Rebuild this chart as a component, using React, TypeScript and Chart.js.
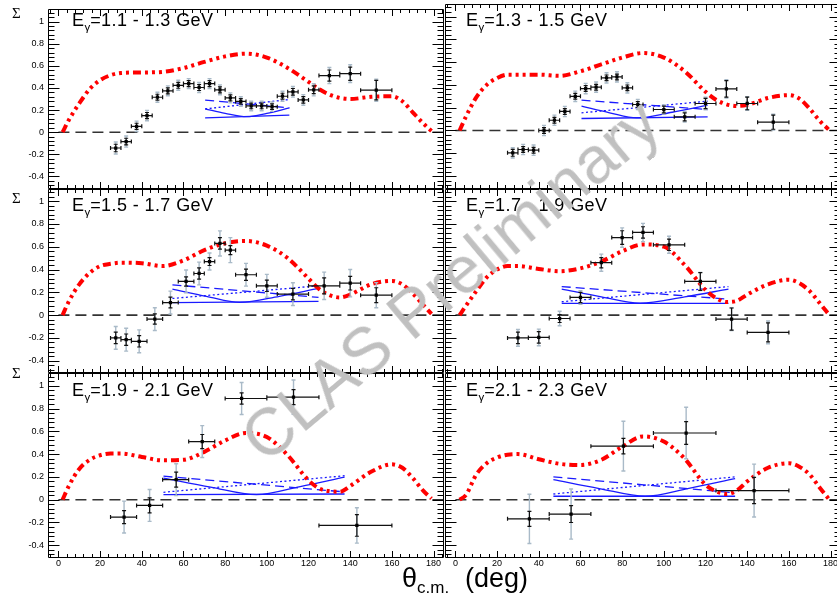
import React, { useEffect, useRef } from "react";
import { Chart, registerables } from "chart.js";
Chart.register(...registerables);

const FONT = "'Liberation Sans', Arial, Helvetica, sans-serif";
const CW = 860;
const CH = 601;

const X_MIN = -5, X_MAX = 185;
const Y_MIN = -0.51, Y_MAX = 1.11;
const X_TICKS = [0, 20, 40, 60, 80, 100, 120, 140, 160, 180];
const Y_TICKS = [-0.4, -0.2, 0, 0.2, 0.4, 0.6, 0.8, 1];

const ENERGY_BINS = ["1.1 - 1.3", "1.3 - 1.5", "1.5 - 1.7", "1.7 - 1.9", "1.9 - 2.1", "2.1 - 2.3"];

// zero reference line
const ZERO_X = [0, 185];
const ZERO_Y = [0, 0];

// red model curves (dash-dot-dot-dot)
const RED_X = [2, 5, 10, 15, 20, 25, 30, 40, 50, 60, 70, 80, 90, 100, 110, 120, 125, 130, 135, 140, 150, 160, 165, 170, 175, 179];
const RED_1 = [0.0, 0.11, 0.26, 0.39, 0.47, 0.515, 0.535, 0.54, 0.545, 0.58, 0.635, 0.685, 0.71, 0.675, 0.58, 0.455, 0.39, 0.34, 0.31, 0.3, 0.32, 0.325, 0.28, 0.18, 0.08, 0.01];
const RED_2 = [0.0, 0.12, 0.29, 0.4, 0.46, 0.49, 0.49, 0.49, 0.48, 0.52, 0.58, 0.64, 0.68, 0.64, 0.52, 0.34, 0.27, 0.23, 0.215, 0.225, 0.285, 0.31, 0.28, 0.19, 0.08, 0.01];
const RED_3 = [0.0, 0.12, 0.27, 0.37, 0.43, 0.45, 0.46, 0.455, 0.43, 0.48, 0.57, 0.63, 0.65, 0.61, 0.5, 0.32, 0.23, 0.175, 0.155, 0.18, 0.27, 0.3, 0.27, 0.19, 0.09, 0.01];
const RED_4 = [0.0, 0.08, 0.21, 0.33, 0.4, 0.43, 0.43, 0.405, 0.385, 0.41, 0.47, 0.56, 0.62, 0.6, 0.44, 0.22, 0.15, 0.115, 0.125, 0.18, 0.27, 0.31, 0.28, 0.21, 0.1, 0.01];
const RED_5 = [0.0, 0.12, 0.27, 0.35, 0.39, 0.405, 0.405, 0.375, 0.345, 0.35, 0.42, 0.52, 0.585, 0.55, 0.39, 0.17, 0.1, 0.075, 0.07, 0.12, 0.245, 0.31, 0.28, 0.19, 0.08, 0.01];
const RED_6 = [0.0, 0.04, 0.22, 0.32, 0.37, 0.395, 0.4, 0.355, 0.315, 0.305, 0.35, 0.465, 0.555, 0.51, 0.36, 0.13, 0.075, 0.05, 0.08, 0.16, 0.28, 0.32, 0.29, 0.22, 0.1, 0.01];

// data points: x, y, bin low/high edges, statistical and total errors
const P1_X = [27.5, 32.5, 37.5, 42.5, 47.5, 52.5, 57.5, 62.5, 67.5, 72.5, 77.5, 82.5, 87.5, 92.5, 97.5, 102.5, 107.5, 112.5, 117.5, 122.5, 130, 140, 152.5];
const P1_Y = [-0.143, -0.085, 0.053, 0.15, 0.316, 0.374, 0.424, 0.439, 0.404, 0.439, 0.383, 0.31, 0.278, 0.237, 0.237, 0.231, 0.325, 0.365, 0.292, 0.383, 0.512, 0.529, 0.38];
const P1_LO = [25, 30, 35, 40, 45, 50, 55, 60, 65, 70, 75, 80, 85, 90, 95, 100, 105, 110, 115, 120, 125, 135, 145];
const P1_HI = [30, 35, 40, 45, 50, 55, 60, 65, 70, 75, 80, 85, 90, 95, 100, 105, 110, 115, 120, 125, 135, 145, 160];
const P1_STAT = [0.034, 0.03, 0.028, 0.028, 0.027, 0.027, 0.027, 0.027, 0.027, 0.027, 0.027, 0.027, 0.025, 0.025, 0.025, 0.025, 0.027, 0.03, 0.03, 0.035, 0.05, 0.06, 0.088];
const P1_SYS = [0.054, 0.05, 0.047, 0.047, 0.045, 0.045, 0.045, 0.045, 0.045, 0.045, 0.045, 0.045, 0.043, 0.043, 0.043, 0.043, 0.045, 0.048, 0.048, 0.055, 0.073, 0.08, 0.1];

const P2_X = [27.5, 32.5, 37.5, 42.5, 47.5, 52.5, 57.5, 62.5, 67.5, 72.5, 77.5, 82.5, 87.5, 100, 110, 120, 130, 140, 152.5];
const P2_Y = [-0.196, -0.167, -0.173, 0.0, 0.09, 0.167, 0.3, 0.368, 0.38, 0.462, 0.47, 0.374, 0.228, 0.184, 0.12, 0.237, 0.365, 0.237, 0.073];
const P2_LO = [25, 30, 35, 40, 45, 50, 55, 60, 65, 70, 75, 80, 85, 95, 105, 115, 125, 135, 145];
const P2_HI = [30, 35, 40, 45, 50, 55, 60, 65, 70, 75, 80, 85, 90, 105, 115, 125, 135, 145, 160];
const P2_STAT = [0.03, 0.025, 0.025, 0.025, 0.025, 0.025, 0.025, 0.025, 0.025, 0.025, 0.025, 0.025, 0.025, 0.03, 0.035, 0.045, 0.072, 0.055, 0.062];
const P2_SYS = [0.045, 0.045, 0.045, 0.045, 0.045, 0.045, 0.045, 0.045, 0.045, 0.045, 0.045, 0.045, 0.045, 0.04, 0.045, 0.055, 0.08, 0.06, 0.07];

const P3_X = [27.5, 32.5, 38.75, 46.25, 53.75, 61.25, 67.5, 72.5, 77.5, 82.5, 90, 100, 112.5, 127.5, 140, 152.5];
const P3_Y = [-0.2, -0.216, -0.23, -0.035, 0.11, 0.295, 0.365, 0.47, 0.629, 0.57, 0.354, 0.257, 0.184, 0.257, 0.28, 0.175];
const P3_LO = [25, 30, 35, 42.5, 50, 57.5, 65, 70, 75, 80, 85, 95, 105, 120, 135, 145];
const P3_HI = [30, 35, 42.5, 50, 57.5, 65, 70, 75, 80, 85, 95, 105, 120, 135, 145, 160];
const P3_STAT = [0.05, 0.05, 0.05, 0.045, 0.047, 0.04, 0.05, 0.035, 0.05, 0.04, 0.05, 0.05, 0.05, 0.07, 0.06, 0.065];
const P3_SYS = [0.1, 0.1, 0.1, 0.1, 0.1, 0.1, 0.1, 0.075, 0.11, 0.11, 0.1, 0.1, 0.1, 0.12, 0.12, 0.11];

const P4_X = [30, 40, 50, 60, 70, 80, 90, 102.5, 117.5, 132.5, 150];
const P4_Y = [-0.2, -0.196, -0.03, 0.155, 0.46, 0.68, 0.725, 0.617, 0.295, -0.035, -0.152];
const P4_LO = [25, 35, 45, 55, 65, 75, 85, 95, 110, 125, 140];
const P4_HI = [35, 45, 55, 65, 75, 85, 95, 110, 125, 140, 160];
const P4_STAT = [0.05, 0.05, 0.035, 0.045, 0.045, 0.06, 0.05, 0.05, 0.078, 0.097, 0.083];
const P4_SYS = [0.073, 0.073, 0.063, 0.06, 0.075, 0.085, 0.08, 0.075, 0.08, 0.1, 0.1];

const P5_X = [31.5, 43.75, 56.5, 69, 87.9, 112.8, 143.2];
const P5_Y = [-0.153, -0.05, 0.176, 0.51, 0.888, 0.9, -0.226];
const P5_LO = [25, 37.5, 50, 62.5, 80, 100, 125];
const P5_HI = [37.5, 50, 62.5, 75, 100, 125, 160];
const P5_STAT = [0.057, 0.066, 0.066, 0.062, 0.05, 0.066, 0.095];
const P5_SYS = [0.14, 0.14, 0.14, 0.14, 0.14, 0.15, 0.155];

const P6_X = [35.5, 55.5, 80.6, 110.7, 143.3];
const P6_Y = [-0.168, -0.126, 0.47, 0.585, 0.08];
const P6_LO = [25, 45, 65, 95, 125];
const P6_HI = [45, 65, 95, 125, 160];
const P6_STAT = [0.066, 0.074, 0.068, 0.1, 0.115];
const P6_SYS = [0.216, 0.22, 0.218, 0.226, 0.232];

// blue model lines
const B1_X = [70.4, 80, 90.4, 100, 110.8];
const B1_SOLID = [0.21, 0.17, 0.14, 0.17, 0.22];
const B1_FLAT = [0.13, 0.155];
const B1_DASH = [0.29, 0.22];
const B1_DOT = [0.21, 0.295];

const B2_X = [60.5, 74, 87, 104, 121];
const B2_SOLID = [0.213, 0.155, 0.11, 0.16, 0.222];
const B2_FLAT = [0.105, 0.12];
const B2_DASH = [0.266, 0.184];
const B2_DOT = [0.155, 0.257];

const B3_X = [54.7, 71, 87, 106, 124.8];
const B3_SOLID = [0.228, 0.165, 0.111, 0.165, 0.234];
const B3_FLAT = [0.11, 0.12];
const B3_DASH = [0.266, 0.155];
const B3_DOT = [0.146, 0.257];

const B4_X = [51, 70, 88.6, 110, 131];
const B4_SOLID = [0.228, 0.16, 0.105, 0.16, 0.228];
const B4_FLAT = [0.103, 0.103];
const B4_DASH = [0.25, 0.14];
const B4_DOT = [0.117, 0.25];

const B5_X = [50.4, 73, 95, 116, 137.3];
const B5_SOLID = [0.19, 0.11, 0.044, 0.115, 0.197];
const B5_FLAT = [0.044, 0.05];
const B5_DASH = [0.206, 0.068];
const B5_DOT = [0.065, 0.21];

const B6_X = [47, 69, 91, 112, 134.2];
const B6_SOLID = [0.176, 0.098, 0.03, 0.1, 0.185];
const B6_FLAT = [0.03, 0.03];
const B6_DASH = [0.2, 0.06];
const B6_DOT = [0.05, 0.2];

// layout of the 3x2 grid (pixels)
const COL_L = [48, 445];
const COL_R = [444, 841];
const ROW_T = [4, 188.6, 373.2];
const ROW_B = [188.6, 373.2, 557.8];

const RED = "#ff0000";
const BLUE = "#1a1aff";
const GRAY = "#a9bac8";

type PanelDef = {
  label: string; col: number; row: number; red: number[];
  px: number[]; py: number[]; lo: number[]; hi: number[]; stat: number[]; sys: number[];
  bx: number[]; solid: number[]; flat: number[]; dash: number[]; dot: number[];
};

const PANELS: PanelDef[] = [
  { label: ENERGY_BINS[0], col: 0, row: 0, red: RED_1, px: P1_X, py: P1_Y, lo: P1_LO, hi: P1_HI, stat: P1_STAT, sys: P1_SYS, bx: B1_X, solid: B1_SOLID, flat: B1_FLAT, dash: B1_DASH, dot: B1_DOT },
  { label: ENERGY_BINS[1], col: 1, row: 0, red: RED_2, px: P2_X, py: P2_Y, lo: P2_LO, hi: P2_HI, stat: P2_STAT, sys: P2_SYS, bx: B2_X, solid: B2_SOLID, flat: B2_FLAT, dash: B2_DASH, dot: B2_DOT },
  { label: ENERGY_BINS[2], col: 0, row: 1, red: RED_3, px: P3_X, py: P3_Y, lo: P3_LO, hi: P3_HI, stat: P3_STAT, sys: P3_SYS, bx: B3_X, solid: B3_SOLID, flat: B3_FLAT, dash: B3_DASH, dot: B3_DOT },
  { label: ENERGY_BINS[3], col: 1, row: 1, red: RED_4, px: P4_X, py: P4_Y, lo: P4_LO, hi: P4_HI, stat: P4_STAT, sys: P4_SYS, bx: B4_X, solid: B4_SOLID, flat: B4_FLAT, dash: B4_DASH, dot: B4_DOT },
  { label: ENERGY_BINS[4], col: 0, row: 2, red: RED_5, px: P5_X, py: P5_Y, lo: P5_LO, hi: P5_HI, stat: P5_STAT, sys: P5_SYS, bx: B5_X, solid: B5_SOLID, flat: B5_FLAT, dash: B5_DASH, dot: B5_DOT },
  { label: ENERGY_BINS[5], col: 1, row: 2, red: RED_6, px: P6_X, py: P6_Y, lo: P6_LO, hi: P6_HI, stat: P6_STAT, sys: P6_SYS, bx: B6_X, solid: B6_SOLID, flat: B6_FLAT, dash: B6_DASH, dot: B6_DOT },
];

const xy = (xs: number[], ys: number[]) => xs.map((x, i) => ({ x, y: ys[i] }));

function Panel({ p }: { p: PanelDef }) {
  const ref = useRef<HTMLCanvasElement | null>(null);
  useEffect(() => {
    const showY = p.col === 0;
    const showX = p.row === 2;
    const Y_AXIS_W = 48;
    const X_AXIS_H = 20;
    const padding = {
      left: showY ? COL_L[p.col] - Y_AXIS_W : COL_L[p.col],
      right: CW - COL_R[p.col],
      top: ROW_T[p.row],
      bottom: CH - ROW_B[p.row] - (showX ? X_AXIS_H : 0),
    };

    const errorPlugin = {
      id: "errbars",
      beforeDatasetDraw(chart: any, args: any) {
        if (args.index !== 0) return;
        const { ctx, scales } = chart;
        const x = scales.x, y = scales.y;
        const cap = 2;
        ctx.save();
        ctx.lineCap = "butt";
        ctx.strokeStyle = GRAY;
        ctx.lineWidth = 1.4;
        ctx.beginPath();
        p.px.forEach((xv, i) => {
          const X = x.getPixelForValue(xv);
          const y1 = y.getPixelForValue(p.py[i] + p.sys[i]);
          const y2 = y.getPixelForValue(p.py[i] - p.sys[i]);
          ctx.moveTo(X, y1); ctx.lineTo(X, y2);
          ctx.moveTo(X - cap, y1); ctx.lineTo(X + cap, y1);
          ctx.moveTo(X - cap, y2); ctx.lineTo(X + cap, y2);
        });
        ctx.stroke();
        ctx.strokeStyle = "#111";
        ctx.lineWidth = 1.2;
        ctx.beginPath();
        p.px.forEach((xv, i) => {
          const X = x.getPixelForValue(xv);
          const Y = y.getPixelForValue(p.py[i]);
          const y1 = y.getPixelForValue(p.py[i] + p.stat[i]);
          const y2 = y.getPixelForValue(p.py[i] - p.stat[i]);
          const x1 = x.getPixelForValue(p.lo[i]);
          const x2 = x.getPixelForValue(p.hi[i]);
          ctx.moveTo(x1, Y); ctx.lineTo(x2, Y);
          ctx.moveTo(x1, Y - cap); ctx.lineTo(x1, Y + cap);
          ctx.moveTo(x2, Y - cap); ctx.lineTo(x2, Y + cap);
          ctx.moveTo(X, y1); ctx.lineTo(X, y2);
          ctx.moveTo(X - cap, y1); ctx.lineTo(X + cap, y1);
          ctx.moveTo(X - cap, y2); ctx.lineTo(X + cap, y2);
        });
        ctx.stroke();
        ctx.restore();
      },
    };

    const framePlugin = {
      id: "rootframe",
      afterDraw(chart: any) {
        const { ctx, scales } = chart;
        const x = scales.x, y = scales.y;
        const L = Math.round(x.getPixelForValue(X_MIN)) + 0.5;
        const R = Math.round(x.getPixelForValue(X_MAX)) - 0.5;
        const T = Math.round(y.getPixelForValue(Y_MAX)) + 0.5;
        const B = Math.round(y.getPixelForValue(Y_MIN)) - 0.5;
        ctx.save();
        ctx.strokeStyle = "#000";
        ctx.lineWidth = 1;
        ctx.beginPath();
        ctx.rect(L, T, R - L, B - T);
        for (let k = -1; k <= 46; k++) {
          const v = k * 4;
          const X = Math.round(x.getPixelForValue(v)) + 0.5;
          const len = v % 20 === 0 ? 6.5 : 3.5;
          ctx.moveTo(X, B); ctx.lineTo(X, B - len);
          ctx.moveTo(X, T); ctx.lineTo(X, T + len);
        }
        for (let k = -12; k <= 27; k++) {
          const v = k * 0.04;
          const Y = Math.round(y.getPixelForValue(v)) + 0.5;
          const len = k % 5 === 0 ? 11 : 6;
          ctx.moveTo(L, Y); ctx.lineTo(L + len, Y);
          ctx.moveTo(R, Y); ctx.lineTo(R - len, Y);
        }
        ctx.stroke();
        ctx.restore();
      },
    };

    const bEnds = [p.bx[0], p.bx[p.bx.length - 1]];
    const lineBase = { pointRadius: 0, fill: false, borderCapStyle: "butt" as const };

    const chart = new Chart(ref.current as HTMLCanvasElement, {
      type: "line",
      data: {
        datasets: [
          {
            data: xy(p.px, p.py), showLine: false, pointStyle: "rect", pointRadius: 2.3,
            pointBackgroundColor: "#000", pointBorderWidth: 0, borderColor: "#000", backgroundColor: "#000",
          },
          { ...lineBase, data: xy(RED_X, p.red), borderColor: RED, borderWidth: 4, borderDash: [8, 4, 3, 4, 3, 4, 3, 4], cubicInterpolationMode: "monotone" },
          { ...lineBase, data: xy(p.bx, p.solid), borderColor: BLUE, borderWidth: 1.3, cubicInterpolationMode: "monotone" },
          { ...lineBase, data: xy(bEnds, p.flat), borderColor: BLUE, borderWidth: 1.3 },
          { ...lineBase, data: xy(bEnds, p.dash), borderColor: BLUE, borderWidth: 1.3, borderDash: [9, 5] },
          { ...lineBase, data: xy(bEnds, p.dot), borderColor: BLUE, borderWidth: 1.3, borderDash: [2, 2.5] },
          { ...lineBase, data: xy(ZERO_X, ZERO_Y), borderColor: "#333", borderWidth: 1.6, borderDash: [11, 6] },
        ] as any,
      },
      options: {
        responsive: false,
        animation: false,
        events: [],
        layout: { padding },
        plugins: { legend: { display: false }, tooltip: { enabled: false } },
        scales: {
          x: {
            type: "linear", min: X_MIN, max: X_MAX, display: showX, position: "bottom",
            grid: { display: false, drawTicks: false }, border: { display: false },
            ticks: { padding: 0, autoSkip: false, maxRotation: 0, color: "#000", font: { family: FONT, size: 9 } },
            afterBuildTicks: (s: any) => { s.ticks = X_TICKS.map((v) => ({ value: v })); },
            afterFit: (s: any) => { s.height = showX ? X_AXIS_H : 0; },
          },
          y: {
            type: "linear", min: Y_MIN, max: Y_MAX, display: showY, position: "left",
            grid: { display: false, drawTicks: false }, border: { display: false },
            ticks: {
              padding: 4, autoSkip: false, color: "#000", font: { family: FONT, size: 9 },
              callback: (v: any) => (Math.abs(v) < 1e-9 ? "0" : String(Math.round(v * 10) / 10)),
            },
            afterBuildTicks: (s: any) => { s.ticks = Y_TICKS.map((v) => ({ value: v })); },
            afterFit: (s: any) => { s.width = showY ? Y_AXIS_W : 0; },
          },
        },
      } as any,
      plugins: [errorPlugin, framePlugin],
    });
    return () => chart.destroy();
  }, [p]);
  return (
    <canvas ref={ref} width={CW} height={CH}
      style={{ position: "absolute", left: 0, top: 0, width: CW, height: CH }} />
  );
}

const SIGMA_TOP = [6, 191, 366];
const LABEL_X = [72, 466];
const LABEL_BASELINE_OFF = 22.7;

export default function App() {
  return (
    <div style={{ position: "absolute", left: 0, top: 0, width: 837, height: 601, overflow: "hidden", background: "#fff" }}>
      {PANELS.map((p, i) => <Panel key={i} p={p} />)}
      {SIGMA_TOP.map((t, i) => (
        <div key={"s" + i} style={{ position: "absolute", left: 12, top: t, fontFamily: "'Liberation Serif', 'DejaVu Serif', serif", fontSize: 15, lineHeight: "15px", color: "#000" }}>Σ</div>
      ))}
      {PANELS.map((p, i) => (
        <div key={"l" + i} style={{
          position: "absolute", left: LABEL_X[p.col], top: ROW_T[p.row] + LABEL_BASELINE_OFF - 15.3,
          fontFamily: FONT, fontSize: 18, lineHeight: "18px", letterSpacing: "0.4px", color: "#000", whiteSpace: "nowrap",
        }}>
          E<span style={{ fontSize: 11.5, position: "relative", top: 5, letterSpacing: 0 }}>γ</span>={p.label} GeV
        </div>
      ))}
      <div style={{ position: "absolute", left: 402, top: 564.5, fontFamily: FONT, fontSize: 27, lineHeight: "27px", color: "#000", whiteSpace: "nowrap" }}>
        θ<span style={{ fontSize: 17, position: "relative", top: 6 }}>c.m.</span>
      </div>
      <div style={{ position: "absolute", left: 465, top: 564.5, fontFamily: FONT, fontSize: 27, lineHeight: "27px", color: "#000", whiteSpace: "nowrap" }}>
        (deg)
      </div>
      <div style={{
        position: "absolute", left: 450, top: 280, transform: "translate(-50%, -50%) rotate(-40deg)",
        fontFamily: FONT, fontSize: 66, lineHeight: "66px", color: "#c0c0c0", whiteSpace: "nowrap", pointerEvents: "none",
      }}>
        CLAS Preliminary
      </div>
    </div>
  );
}
